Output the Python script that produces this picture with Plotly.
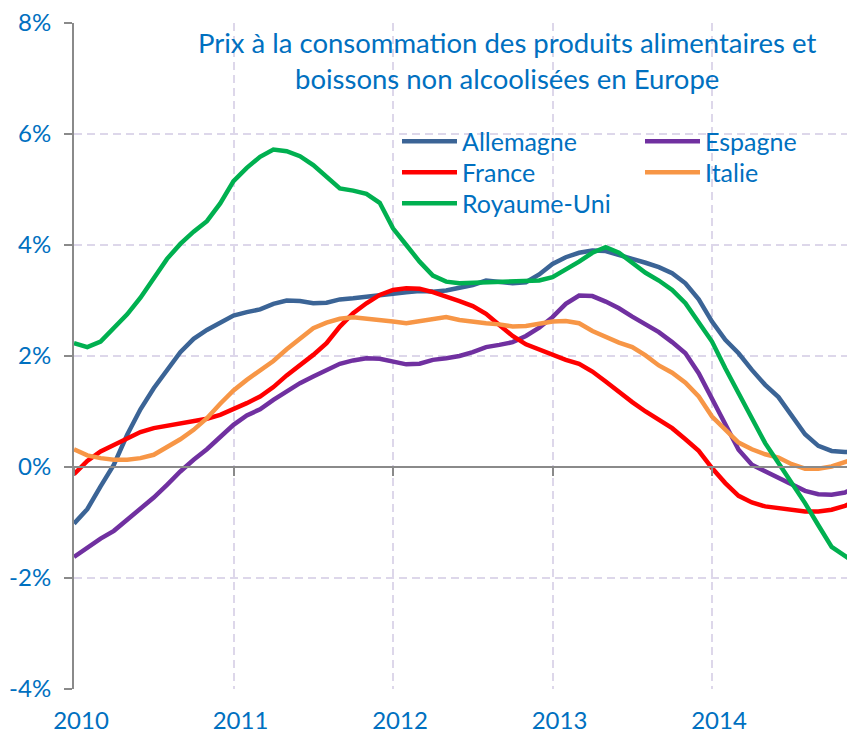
import plotly.graph_objects as go

# Monthly data, Jan 2010 .. Dec 2014 (year-on-year change, %)
months = [2010 + i / 12 for i in range(60)]

allemagne = [-1.02, -0.76, -0.35, 0.04, 0.58, 1.04, 1.42, 1.76, 2.07, 2.31, 2.47, 2.60,
             2.73, 2.79, 2.84, 2.94, 3.00, 2.99, 2.95, 2.96, 3.02, 3.04, 3.06, 3.09,
             3.12, 3.15, 3.17, 3.16, 3.18, 3.23, 3.28, 3.36, 3.33, 3.31, 3.33, 3.47,
             3.66, 3.78, 3.86, 3.90, 3.89, 3.83, 3.75, 3.68, 3.60, 3.49, 3.31, 3.02,
             2.62, 2.29, 2.05, 1.75, 1.48, 1.26, 0.94, 0.59, 0.38, 0.29, 0.27, 0.27]

espagne = [-1.62, -1.45, -1.29, -1.15, -0.95, -0.75, -0.55, -0.32, -0.08, 0.13, 0.32, 0.54,
           0.76, 0.93, 1.04, 1.21, 1.37, 1.51, 1.63, 1.75, 1.86, 1.92, 1.96, 1.95,
           1.90, 1.85, 1.86, 1.93, 1.96, 2.00, 2.07, 2.16, 2.20, 2.25, 2.36, 2.51,
           2.70, 2.94, 3.09, 3.08, 2.98, 2.86, 2.71, 2.57, 2.43, 2.25, 2.05, 1.69,
           1.24, 0.76, 0.31, 0.04, -0.08, -0.20, -0.32, -0.43, -0.49, -0.50, -0.46, -0.35]

france = [-0.13, 0.11, 0.28, 0.40, 0.50, 0.63, 0.70, 0.74, 0.80, 0.84, 0.87, 0.94,
          1.04, 1.15, 1.27, 1.44, 1.65, 1.83, 2.02, 2.23, 2.53, 2.77, 2.95, 3.10,
          3.19, 3.22, 3.21, 3.15, 3.08, 2.99, 2.90, 2.76, 2.56, 2.36, 2.21, 2.11,
          2.01, 1.93, 1.86, 1.72, 1.54, 1.35, 1.17, 1.00, 0.85, 0.70, 0.50, 0.29,
          -0.02, -0.29, -0.52, -0.64, -0.71, -0.74, -0.79, -0.80, -0.80, -0.77, -0.70, -0.60]

italie = [0.32, 0.21, 0.16, 0.13, 0.13, 0.16, 0.22, 0.35, 0.50, 0.67, 0.88, 1.14,
          1.38, 1.57, 1.73, 1.91, 2.12, 2.32, 2.50, 2.60, 2.67, 2.70, 2.68, 2.65,
          2.62, 2.59, 2.63, 2.68, 2.70, 2.65, 2.61, 2.59, 2.57, 2.53, 2.54, 2.59,
          2.62, 2.63, 2.59, 2.45, 2.34, 2.24, 2.16, 2.01, 1.83, 1.70, 1.52, 1.27,
          0.91, 0.67, 0.44, 0.32, 0.23, 0.17, 0.05, -0.03, -0.03, 0.01, 0.08, 0.17]

royaume_uni = [2.23, 2.16, 2.26, 2.50, 2.75, 3.05, 3.41, 3.75, 4.02, 4.24, 4.43, 4.75,
               5.15, 5.39, 5.59, 5.72, 5.69, 5.60, 5.44, 5.23, 5.02, 4.98, 4.92, 4.76,
               4.30, 4.00, 3.70, 3.45, 3.34, 3.31, 3.32, 3.33, 3.33, 3.34, 3.35, 3.36,
               3.42, 3.55, 3.70, 3.86, 3.96, 3.86, 3.68, 3.50, 3.36, 3.19, 2.95, 2.59,
               2.26, 1.78, 1.33, 0.88, 0.43, 0.07, -0.29, -0.65, -1.05, -1.44, -1.60, -1.76]

year_ticks = [2010, 2011, 2012, 2013, 2014]
year_labels = ["2010", "2011", "2012", "2013", "2014"]
y_ticks = [-4, -2, 0, 2, 4, 6, 8]
y_labels = ["-4%", "-2%", "0%", "2%", "4%", "6%", "8%"]

TXT = "#0070C0"
GRID = "#DDD7EA"
AXIS = "#8A8A8A"
FONT = "Lato"

# page body has an 8px margin: figure is 847x726 placed at (8, 8)
PW = 781.0   # plot width
H = 666.0    # plot height
x_end = 2010 + PW / 159.5

# legend slots (page px): column left edge, row top
COL1, COL2 = 397, 640
ROW1, ROW2, ROW3 = 118.5, 149.5, 180.5

series = [
    ("Allemagne", allemagne, "#3B6496", "legend", COL1, ROW1),
    ("Espagne", espagne, "#7030A0", "legend2", COL2, ROW1),
    ("France", france, "#FF0000", "legend3", COL1, ROW2),
    ("Italie", italie, "#F79646", "legend4", COL2, ROW2),
    ("Royaume-Uni", royaume_uni, "#00B050", "legend5", COL1, ROW3),
]

fig = go.Figure()
# invisible helper trace so the zero-line axis (x2) is drawn
fig.add_trace(go.Scatter(x=months, y=allemagne, xaxis="x2", mode="lines",
                         line=dict(width=0, color="rgba(0,0,0,0)"),
                         showlegend=False, hoverinfo="skip"))
legends = {}
for name, vals, col, lg, lx, ly in series:
    fig.add_trace(go.Scatter(x=months, y=vals, name=name, mode="lines",
                             line=dict(color=col, width=4.5),
                             legend=lg))
    legends[lg] = dict(x=(lx - 74) / PW, xanchor="left", y=(689 - ly) / H,
                       yanchor="top", bgcolor="rgba(0,0,0,0)",
                       font=dict(size=25, color=TXT, family=FONT), itemwidth=55)

fig.update_layout(
    width=847, height=726,
    margin=dict(l=66, r=0, t=15, b=45, autoexpand=False),
    paper_bgcolor="white", plot_bgcolor="white",
    font=dict(family=FONT, size=24, color=TXT),
    xaxis=dict(range=[2010, x_end], tickvals=year_ticks, ticktext=year_labels,
               showline=False, ticks="", showgrid=True, gridcolor=GRID,
               gridwidth=1.5, griddash="8px,5px", zeroline=False, automargin=False,
               tickfont=dict(size=24, color=TXT, family=FONT),
               ticklabelshift=7, ticklabelstandoff=15, ticklabeloverflow="allow"),
    xaxis2=dict(overlaying="x", matches="x", anchor="free", position=1/3,
                side="bottom", showline=True, linecolor=AXIS, linewidth=2,
                ticks="outside", ticklen=8, tickwidth=2, tickcolor=AXIS,
                tickvals=year_ticks, showticklabels=False, showgrid=False,
                zeroline=False, automargin=False),
    yaxis=dict(range=[-4, 8], tickvals=y_ticks, ticktext=y_labels,
               showline=True, linecolor=AXIS, linewidth=2,
               ticks="outside", ticklen=8, tickwidth=2, tickcolor=AXIS,
               showgrid=True, gridcolor=GRID, gridwidth=1.5, griddash="8px,5px",
               zeroline=False, automargin=False,
               tickfont=dict(size=24, color=TXT, family=FONT),
               ticklabelstandoff=8, ticklabeloverflow="allow"),
    annotations=[dict(text="Prix à la consommation des produits alimentaires et<br>"
                           "boissons non alcoolisées en Europe",
                      xref="paper", yref="paper", x=(507 - 74) / PW, y=(689 - 60) / H,
                      xanchor="center", yanchor="middle", showarrow=False,
                      font=dict(size=27.5, color=TXT, family=FONT), align="center")],
    showlegend=True,
    **legends,
)

fig.write_html("out.html")
